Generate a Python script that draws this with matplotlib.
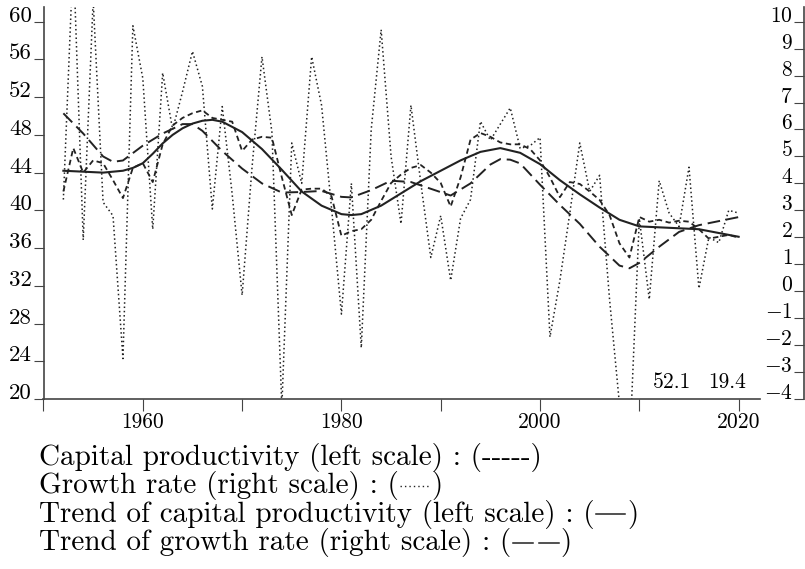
import matplotlib
matplotlib.use('Agg')
import matplotlib.pyplot as plt
from matplotlib.lines import Line2D

plt.rcParams['font.family'] = 'cmr10'
plt.rcParams['mathtext.fontset'] = 'cm'
plt.rcParams['axes.unicode_minus'] = False

# annual series, 1952-2020
years = list(range(1952, 2021))
cap_prod = [42.0, 46.6, 44.0, 45.3, 45.0, 43.2, 41.3, 44.5, 45.0, 43.0,
            47.0, 49.0, 49.8, 50.3, 50.6, 49.8, 49.6, 49.4, 46.3, 47.5,
            47.8, 47.7, 43.5, 39.5, 42.2, 42.3, 42.3, 41.5, 37.3, 37.8,
            38.0, 39.0, 41.0, 42.9, 43.8, 44.5, 44.8, 44.0, 42.9, 40.4,
            43.5, 47.5, 48.2, 47.8, 47.2, 47.0, 47.0, 46.5, 45.3, 43.5,
            41.4, 43.0, 42.8, 42.0, 41.1, 39.5, 36.5, 35.0, 39.3, 38.8,
            39.0, 38.7, 38.9, 38.8, 38.0, 37.0, 37.2, 37.4, 37.1]
growth = [3.4, 12.5, 1.9, 10.8, 3.3, 2.8, -2.5, 9.85, 7.9, 2.3,
          8.1, 6.0, 7.4, 8.9, 7.6, 3.05, 6.85, 3.6, -0.15, 4.6,
          8.7, 5.9, -4.3, 5.5, 4.0, 8.7, 6.9, 3.1, -0.85, 4.0,
          -2.1, 6.0, 9.7, 5.0, 2.5, 6.9, 4.0, 1.25, 2.8, 0.4,
          2.7, 3.4, 6.3, 5.6, 6.2, 6.8, 5.3, 5.4, 5.7, -1.7,
          0.4, 2.9, 5.5, 3.7, 4.3, -0.3, -4.2, -6.0, 2.7, -0.3,
          4.1, 2.9, 2.4, 4.6, 0.1, 2.0, 1.8, 3.0, 2.9]

# smoothed trends
trend_cp_years = [1952, 1954, 1956, 1958, 1959, 1960, 1961, 1962, 1963, 1964,
                  1965, 1966, 1967, 1968, 1970, 1972, 1974, 1976, 1978, 1980,
                  1981, 1982, 1984, 1986, 1988, 1990, 1992, 1994, 1996, 1998,
                  2000, 2002, 2004, 2006, 2008, 2010, 2012, 2014, 2016, 2018,
                  2020]
trend_cp = [44.2, 44.1, 44.0, 44.2, 44.5, 45.0, 46.0, 47.1, 48.0, 48.7,
            49.2, 49.5, 49.6, 49.4, 48.3, 46.5, 44.3, 42.0, 40.5, 39.6,
            39.5, 39.6, 40.5, 41.8, 43.1, 44.2, 45.3, 46.2, 46.6, 46.1,
            44.9, 43.2, 41.7, 40.3, 39.0, 38.3, 38.2, 38.1, 38.0, 37.6,
            37.2]
trend_gr_years = [1952, 1954, 1956, 1957, 1958, 1960, 1962, 1964, 1965, 1966,
                  1968, 1970, 1972, 1974, 1976, 1978, 1980, 1981, 1983, 1985,
                  1987, 1989, 1991, 1993, 1995, 1996, 1997, 1998, 2000, 2002,
                  2004, 2006, 2008, 2009, 2010, 2012, 2014, 2016, 2018, 2020]
trend_gr = [6.6, 5.85, 5.0, 4.8, 4.85, 5.4, 5.85, 6.2, 6.2, 5.95,
            5.2, 4.55, 4.0, 3.66, 3.68, 3.72, 3.5, 3.48, 3.75, 4.1,
            4.05, 3.8, 3.55, 4.0, 4.7, 4.9, 4.88, 4.74, 3.95, 3.2,
            2.5, 1.65, 0.95, 0.85, 1.05, 1.65, 2.2, 2.45, 2.6, 2.75]

left_ticks = list(range(20, 61, 4))
right_ticks = list(range(-4, 11))
x_ticks = list(range(1950, 2021, 10))
x_labels = ['', '1960', '', '1980', '', '2000', '', '2020']

W, H = 805, 569
fig = plt.figure(figsize=(W / 100, H / 100), dpi=100)

# plot box in pixels
px_l, px_r, px_b, px_t = 43.5, 760, 399, 7
rect = [px_l / W, 1 - px_b / H, (px_r - px_l) / W, (px_b - px_t) / H]
ax = fig.add_axes(rect)
ax2 = ax.twinx()

ink = '#222222'
ax.plot(years, cap_prod, color=ink, lw=1.3, ls=(0, (3, 2)))
ax.plot(trend_cp_years, trend_cp, color=ink, lw=1.5, ls='-')
ax2.plot(years, growth, color=ink, lw=1.1, ls=(0, (1, 1.8)))
ax2.plot(trend_gr_years, trend_gr, color=ink, lw=1.4, ls=(0, (6.5, 3)))

ax.set_xlim(1950, 2022.15)
ax.set_ylim(20, 61.56)
ax2.set_ylim(-4, 10.545)

spine_c = '#444444'
for s in ['top', 'right']:
    ax.spines[s].set_visible(False)
for s in ['left', 'bottom']:
    ax.spines[s].set_color(spine_c)
    ax.spines[s].set_linewidth(1.2)
for s in ax2.spines.values():
    s.set_visible(False)
ax2.set_yticks([])

ax.set_xticks(x_ticks)
ax.set_xticklabels(x_labels)
ax.set_yticks(left_ticks)
ax.set_yticklabels([str(v) for v in left_ticks])
ax.tick_params(axis='x', direction='out', length=8.5, width=0.8, color=spine_c,
               labelsize=15.5, pad=1)
ax.tick_params(axis='y', direction='out', length=7.2, width=0.8, color=spine_c,
               labelsize=16.5, pad=1)
for t in ax.yaxis.get_major_ticks():
    t.label1.set_verticalalignment('baseline')

# right-hand scale drawn as its own vertical axis
axr = fig.add_axes([804 / W, rect[1], 0.0005, rect[3]])
axr.set_ylim(-4, 10.545)
for s in ['top', 'right', 'bottom']:
    axr.spines[s].set_visible(False)
axr.spines['left'].set_color(spine_c)
axr.spines['left'].set_linewidth(1.2)
axr.set_xticks([])
axr.set_yticks(right_ticks)
axr.set_yticklabels(['$%d$' % v for v in right_ticks])
axr.tick_params(axis='y', direction='out', length=7.2, width=0.8, color=spine_c,
                labelsize=15.5, pad=1)
for t in axr.yaxis.get_major_ticks():
    t.label1.set_verticalalignment('baseline')
axr.patch.set_visible(False)

fig.text(653 / W, 1 - 388 / H, '52.1', fontsize=15.5, va='baseline')
fig.text(708 / W, 1 - 388 / H, '19.4', fontsize=15.5, va='baseline')

# key below the plot
fs = 21
lx = 38.5 / W
base = [465.0, 493.3, 521.6, 550.0]
fig.text(lx, 1 - base[0] / H, 'Capital productivity (left scale) : (-----)',
         fontsize=fs, va='baseline')
heads = ['Growth rate (right scale) : (',
         'Trend of capital productivity (left scale) : (',
         'Trend of growth rate (right scale) : (']
# each key symbol: list of (start, end) pixel offsets, line style
keys = [dict(segs=[(0, 29)], ls=(0, (1, 2.2)), lw=1.0),
        dict(segs=[(0, 29)], ls='-', lw=1.1),
        dict(segs=[(0, 20), (26, 46)], ls='-', lw=1.1)]

fig.canvas.draw()
renderer = fig.canvas.get_renderer()
for head, key, b in zip(heads, keys, base[1:]):
    t = fig.text(lx, 1 - b / H, head, fontsize=fs, va='baseline')
    bb = t.get_window_extent(renderer)
    x0 = bb.x1 + 2
    y_mid = (H - b) + 7.5
    for a, e in key['segs']:
        fig.add_artist(Line2D([(x0 + a) / W, (x0 + e) / W], [y_mid / H, y_mid / H],
                              transform=fig.transFigure, color=ink,
                              lw=key['lw'], ls=key['ls']))
    x_end = x0 + key['segs'][-1][1]
    fig.text((x_end + 2) / W, 1 - b / H, ')', fontsize=fs, va='baseline')

fig.savefig('out.png', dpi=100)
